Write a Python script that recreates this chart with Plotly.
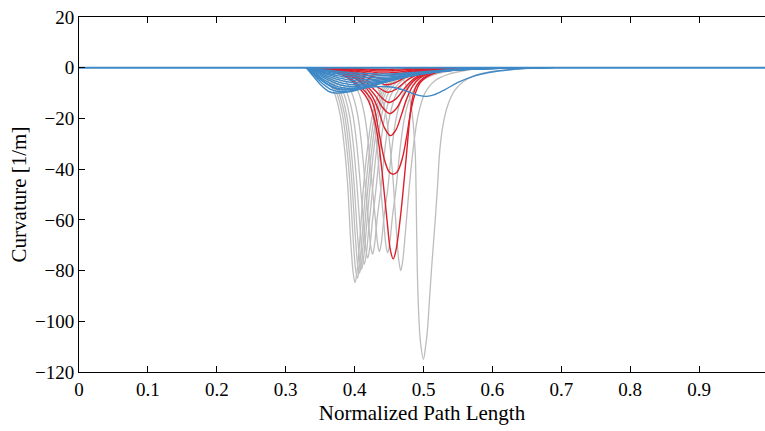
import plotly.graph_objects as go

# ---------------- data ----------------
x_ticks = [0, 0.1, 0.2, 0.3, 0.4, 0.5, 0.6, 0.7, 0.8, 0.9]
y_ticks = [20, 0, -20, -40, -60, -80, -100, -120]

# gray curves (deep, narrow dips)
gray_x = [
    [0.3256,0.3456,0.3606,0.3706,0.3786,0.3846,0.3896,0.3946,0.3981,0.4006,0.4031,0.4076,0.4126,0.4186,0.4256,0.4356,0.4506,0.4706,0.4956,0.5306],
    [0.329,0.349,0.364,0.374,0.382,0.388,0.393,0.398,0.4015,0.404,0.4065,0.411,0.416,0.422,0.429,0.439,0.454,0.474,0.499,0.534],
    [0.332,0.352,0.367,0.377,0.385,0.391,0.396,0.401,0.4045,0.407,0.4095,0.414,0.419,0.425,0.432,0.442,0.457,0.477,0.502,0.537],
    [0.335,0.355,0.37,0.38,0.388,0.394,0.399,0.404,0.4075,0.41,0.4125,0.417,0.422,0.428,0.435,0.445,0.46,0.48,0.505,0.54],
    [0.339,0.359,0.374,0.384,0.392,0.398,0.403,0.408,0.4115,0.414,0.4165,0.421,0.426,0.432,0.439,0.449,0.464,0.484,0.509,0.544],
    [0.344,0.364,0.379,0.389,0.397,0.403,0.408,0.413,0.4165,0.419,0.4215,0.426,0.431,0.437,0.444,0.454,0.469,0.489,0.514,0.549],
    [0.351,0.371,0.386,0.396,0.404,0.41,0.415,0.42,0.4235,0.426,0.4285,0.433,0.438,0.444,0.451,0.461,0.476,0.496,0.521,0.556],
    [0.361,0.381,0.396,0.406,0.414,0.42,0.425,0.43,0.4335,0.436,0.4385,0.443,0.448,0.454,0.461,0.471,0.486,0.506,0.531,0.566],
    [0.373,0.393,0.408,0.418,0.426,0.432,0.437,0.442,0.4455,0.448,0.4505,0.455,0.46,0.466,0.473,0.483,0.498,0.518,0.543,0.578],
    [0.392,0.412,0.427,0.437,0.445,0.451,0.456,0.461,0.4645,0.467,0.4695,0.474,0.479,0.485,0.492,0.502,0.517,0.537,0.562,0.597],
    [0.42,0.45,0.465,0.475,0.482,0.4877,0.4893,0.491,0.4935,0.4955,0.4998,0.503,0.5055,0.509,0.512,0.517,0.5205,0.5235,0.528,0.535,0.545,0.558,0.575,0.597,0.64,0.68],
]
gray_y = [
    [0,-1.5,-5,-10,-18,-30,-45,-69.5,-81.3,-84.7,-81.3,-67.8,-48,-32,-19,-10,-5,-2.5,-1,0],
    [0,-1.5,-5,-10,-18,-30,-45,-68.1,-79.7,-83,-79.7,-66.4,-48,-32,-19,-10,-5,-2.5,-1,0],
    [0,-1.5,-5,-10,-18,-30,-45,-66.4,-77.8,-81,-77.8,-64.8,-48,-32,-19,-10,-5,-2.5,-1,0],
    [0,-1.5,-5,-10,-18,-30,-45,-65.2,-76.3,-79.5,-76.3,-63.6,-48,-32,-19,-10,-5,-2.5,-1,0],
    [0,-1.5,-5,-10,-18,-30,-45,-63.6,-74.4,-77.5,-74.4,-62,-48,-32,-19,-10,-5,-2.5,-1,0],
    [0,-1.5,-5,-10,-18,-30,-45,-61.5,-72,-75,-72,-60,-48,-32,-19,-10,-5,-2.5,-1,0],
    [0,-1.5,-5,-10,-18,-30,-45,-60.3,-70.6,-73.5,-70.6,-58.8,-48,-32,-19,-10,-5,-2.5,-1,0],
    [0,-1.5,-5,-10,-18,-30,-45,-59.5,-69.6,-72.5,-69.6,-58,-48,-32,-19,-10,-5,-2.5,-1,0],
    [0,-1.5,-5,-10,-18,-30,-45,-59.9,-70.1,-73,-70.1,-58.4,-48,-32,-19,-10,-5,-2.5,-1,0],
    [0,-1.5,-5,-10,-18,-30,-45,-65.6,-76.8,-80,-76.8,-64,-48,-32,-19,-10,-5,-2.5,-1,0],
    [0,-1,-3,-7,-15,-32,-50,-80,-100,-108,-115,-110,-104,-90,-78,-60,-46,-33,-23,-15,-9,-5.4,-3,-1.5,-0.5,0],
]

# red curves (moderate dips centred near 0.45)
red_x = [
    [0.335,0.37,0.39,0.41,0.42,0.43,0.436,0.441,0.447,0.452,0.456,0.46,0.466,0.472,0.476,0.48,0.484,0.49,0.50,0.515,0.54,0.57],
    [0.335,0.37,0.39,0.408,0.425,0.435,0.443,0.45,0.456,0.462,0.469,0.475,0.481,0.487,0.495,0.505,0.52,0.54,0.57],
    [0.335,0.37,0.395,0.41,0.425,0.435,0.443,0.452,0.46,0.468,0.476,0.485,0.495,0.51,0.53,0.56],
    [0.335,0.37,0.395,0.415,0.43,0.44,0.451,0.461,0.47,0.48,0.49,0.505,0.525,0.555],
    [0.335,0.37,0.395,0.415,0.43,0.44,0.45,0.46,0.47,0.48,0.49,0.505,0.525,0.55],
    [0.335,0.37,0.395,0.415,0.43,0.448,0.46,0.47,0.48,0.495,0.515,0.545],
    [0.335,0.37,0.395,0.415,0.43,0.446,0.46,0.472,0.485,0.50,0.52,0.545],
    [0.335,0.37,0.395,0.42,0.444,0.46,0.475,0.49,0.51,0.54],
    [0.335,0.37,0.40,0.42,0.442,0.46,0.48,0.50,0.53],
    [0.335,0.37,0.40,0.42,0.44,0.46,0.48,0.50,0.525],
    [0.335,0.37,0.40,0.42,0.438,0.46,0.48,0.50,0.52],
    [0.335,0.38,0.41,0.436,0.46,0.49,0.515],
]
red_y = [
    [0,-1.5,-4,-9,-13,-22,-32,-44,-60,-72,-75.4,-72,-60,-44,-32,-20,-12,-7,-4,-2,-0.7,0],
    [0,-1.5,-3.5,-7.4,-13,-25,-36,-41,-42,-41,-36,-28,-18,-11,-6,-3.5,-1.8,-0.7,0],
    [0,-1.3,-3.5,-6,-11,-17,-23.5,-26.8,-24.5,-18.5,-12,-7,-4,-2,-0.8,0],
    [0,-1.2,-3,-6.5,-11,-15.5,-18.1,-16,-11.5,-7,-4.2,-2.2,-0.9,0],
    [0,-1,-2.8,-5.5,-9,-12,-13.7,-12.3,-9,-5.8,-3.6,-1.9,-0.8,0],
    [0,-1,-2.5,-4.6,-7,-9.7,-8.5,-6.3,-4.2,-2.2,-1,0],
    [0,-0.8,-2,-3.6,-5.2,-6.7,-5.8,-4,-2.5,-1.3,-0.5,0],
    [0,-0.6,-1.5,-3,-4.6,-3.9,-2.6,-1.5,-0.6,0],
    [0,-0.5,-1.3,-2.2,-3.1,-2.6,-1.5,-0.7,0],
    [0,-0.35,-0.9,-1.5,-2.1,-1.8,-1.1,-0.45,0],
    [0,-0.2,-0.55,-0.95,-1.3,-1.1,-0.65,-0.25,0],
    [0,-0.15,-0.4,-0.7,-0.55,-0.2,0],
]

# blue curves (shallow, wide dips starting at 0.33)
blue_x = [
    [0.33,0.3405,0.351,0.3615,0.372,0.392,0.417,0.442,0.472,0.502,0.532,0.572,0.622],
    [0.33,0.342,0.354,0.366,0.378,0.398,0.423,0.448,0.478,0.508,0.538,0.578,0.628],
    [0.33,0.3435,0.357,0.3705,0.384,0.404,0.429,0.454,0.484,0.514,0.544,0.584,0.634],
    [0.33,0.345,0.36,0.375,0.39,0.41,0.435,0.46,0.49,0.52,0.55,0.59,0.64],
    [0.33,0.3465,0.363,0.3795,0.396,0.416,0.441,0.466,0.496,0.526,0.556,0.596,0.646],
    [0.33,0.348,0.366,0.384,0.402,0.422,0.447,0.472,0.502,0.532,0.562,0.602,0.652],
    [0.33,0.3495,0.369,0.3885,0.408,0.428,0.453,0.478,0.508,0.538,0.568,0.608,0.658],
    [0.33,0.351,0.372,0.393,0.414,0.434,0.459,0.484,0.514,0.544,0.574,0.614,0.664],
    [0.33,0.3525,0.375,0.3975,0.42,0.44,0.465,0.49,0.52,0.55,0.58,0.62,0.67],
    [0.33,0.354,0.378,0.402,0.426,0.446,0.471,0.496,0.526,0.556,0.586,0.626,0.676],
    [0.33,0.3555,0.381,0.4065,0.432,0.452,0.477,0.502,0.532,0.562,0.592,0.632,0.682],
    [0.33,0.357,0.384,0.411,0.438,0.458,0.483,0.508,0.538,0.568,0.598,0.638,0.688],
    [0.33,0.345,0.36,0.375,0.39,0.41,0.43,0.45,0.466,0.48,0.493,0.5045,0.515,0.53,0.55,0.572,0.597,0.625,0.66],
]
blue_y = [
    [0,-3.5,-6.8,-9.2,-10,-9.5,-7.8,-5.6,-3.4,-1.9,-1.0,-0.35,0],
    [0,-3.29,-6.39,-8.65,-9.4,-8.93,-7.33,-5.26,-3.2,-1.79,-0.94,-0.33,0],
    [0,-3.08,-5.98,-8.1,-8.8,-8.36,-6.86,-4.93,-2.99,-1.67,-0.88,-0.31,0],
    [0,-2.84,-5.51,-7.45,-8.1,-7.7,-6.32,-4.54,-2.75,-1.54,-0.81,-0.28,0],
    [0,-2.59,-5.03,-6.81,-7.4,-7.03,-5.77,-4.14,-2.52,-1.41,-0.74,-0.26,0],
    [0,-2.35,-4.56,-6.16,-6.7,-6.37,-5.23,-3.75,-2.28,-1.27,-0.67,-0.23,0],
    [0,-2.1,-4.08,-5.52,-6.0,-5.7,-4.68,-3.36,-2.04,-1.14,-0.6,-0.21,0],
    [0,-1.86,-3.6,-4.88,-5.3,-5.04,-4.13,-2.97,-1.8,-1.01,-0.53,-0.19,0],
    [0,-1.61,-3.13,-4.23,-4.6,-4.37,-3.59,-2.58,-1.56,-0.87,-0.46,-0.16,0],
    [0,-1.37,-2.65,-3.59,-3.9,-3.71,-3.04,-2.18,-1.33,-0.74,-0.39,-0.14,0],
    [0,-1.12,-2.18,-2.94,-3.2,-3.04,-2.5,-1.79,-1.09,-0.61,-0.32,-0.11,0],
    [0,-0.88,-1.7,-2.3,-2.5,-2.38,-1.95,-1.4,-0.85,-0.48,-0.25,-0.09,0],
    [0,-3.3,-6.3,-8.2,-8.5,-8,-7.5,-7.5,-8.4,-9.7,-10.9,-11.3,-10.7,-8.8,-5.8,-3.4,-1.8,-0.8,0],
]

# flat (zero curvature) part shared by every curve
flat_x = [0, 1]
flat_y = [0, 0]

# ---------------- styles ----------------
GRAY = "#bdbdbd"
RED = "#dc1f2a"
BLUE = "#3d88c6"
FONT = "Liberation Serif"

fig = go.Figure()
for xs, ys in zip(gray_x, gray_y):
    fig.add_trace(go.Scatter(x=xs, y=ys, mode="lines",
                             line=dict(color=GRAY, width=1.3, shape="spline", smoothing=1.0),
                             hoverinfo="skip", showlegend=False))
for xs, ys in zip(red_x, red_y):
    fig.add_trace(go.Scatter(x=xs, y=ys, mode="lines",
                             line=dict(color=RED, width=1.4, shape="spline", smoothing=1.0),
                             hoverinfo="skip", showlegend=False))
for xs, ys in zip(blue_x, blue_y):
    fig.add_trace(go.Scatter(x=xs, y=ys, mode="lines",
                             line=dict(color=BLUE, width=1.4, shape="spline", smoothing=1.0),
                             hoverinfo="skip", showlegend=False))
fig.add_trace(go.Scatter(x=flat_x, y=flat_y, mode="lines",
                         line=dict(color=BLUE, width=2), hoverinfo="skip", showlegend=False))

fig.update_layout(
    width=765, height=431,
    margin=dict(l=79, r=0, t=17, b=59),
    paper_bgcolor="white", plot_bgcolor="white",
    font=dict(family=FONT, color="black", size=19),
    xaxis=dict(
        range=[0, 0.9956], tickvals=x_ticks, ticktext=[f"{v:g}" for v in x_ticks],
        ticks="inside", ticklen=6, tickwidth=1, tickcolor="black",
        showline=True, linecolor="black", linewidth=1, mirror="ticks",
        showgrid=False, zeroline=False,
        tickfont=dict(family=FONT, size=19, color="black"),
        title=dict(text="Normalized Path Length", font=dict(family=FONT, size=21), standoff=6),
    ),
    yaxis=dict(
        range=[-120, 20], tickvals=y_ticks,
        ticks="inside", ticklen=6, tickwidth=1, tickcolor="black",
        showline=True, linecolor="black", linewidth=1, mirror=False,
        showgrid=False, zeroline=False,
        tickfont=dict(family=FONT, size=19, color="black"),
        title=dict(text="Curvature [1/m]", font=dict(family=FONT, size=21), standoff=2),
    ),
)

fig.write_html(
    "out.html",
    config={"displayModeBar": False},
    post_script="document.body.style.margin='0';document.body.style.overflow='hidden';",
)
